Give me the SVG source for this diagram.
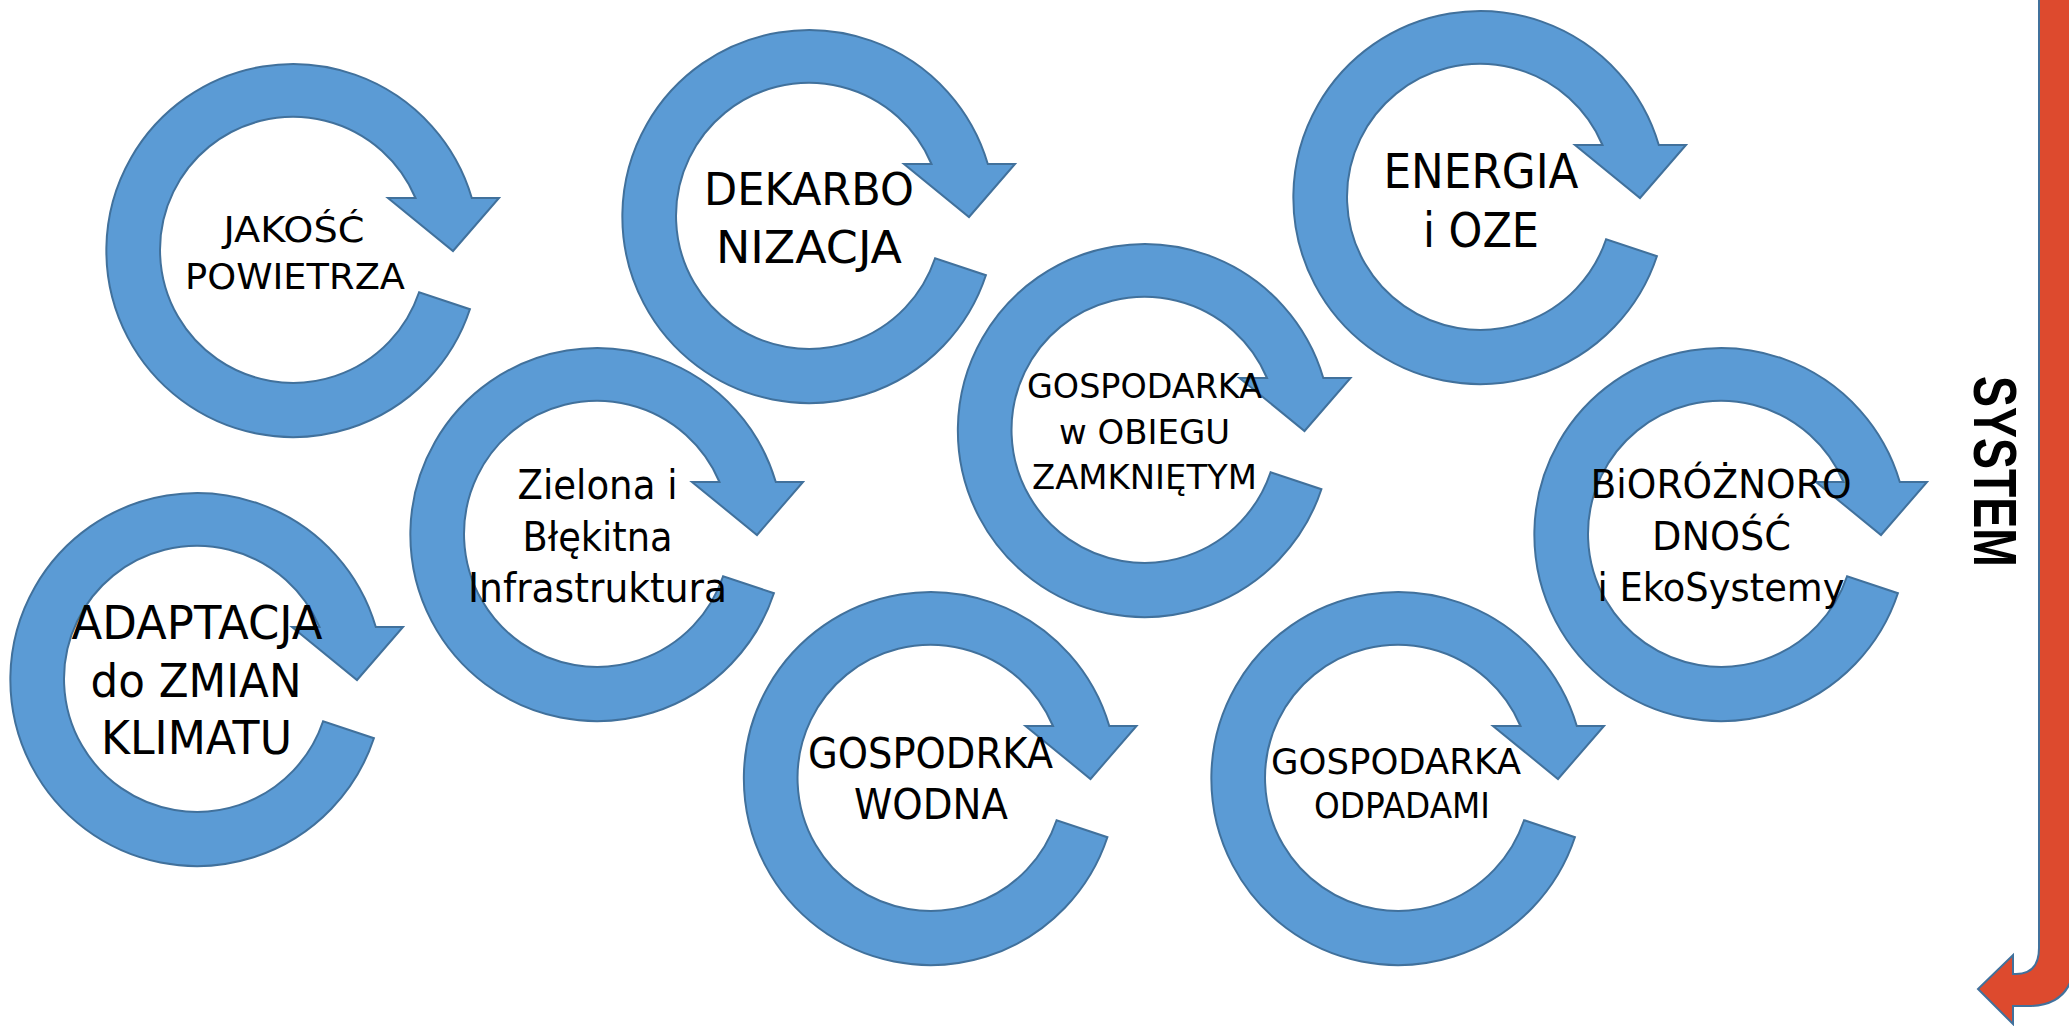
<svg xmlns="http://www.w3.org/2000/svg" xmlns:xlink="http://www.w3.org/1999/xlink" width="2069" height="1026" viewBox="0 0 2069 1026">
<style>
.ring{fill:#5B9BD5;stroke:#41719C;stroke-width:2;stroke-linejoin:miter}
.lbl{font-family:"DejaVu Sans","Verdana",sans-serif;fill:#000;text-anchor:middle}
.sys{font-family:"Liberation Sans Narrow","Liberation Sans",Arial,sans-serif;font-weight:bold;fill:#000}
.red{fill:#DD4A2E;stroke:#41719C;stroke-width:2}
</style>
<defs>
<path id="circArrow" class="ring" d="M 176.9 59.2 A 186.5 186.5 0 1 1 178.8 -52 L 206 -52 L 160 1 L 95 -52 L 122.5 -52 A 133 133 0 1 0 126.1 42.2 Z"/>
</defs>
<rect x="0" y="0" width="2069" height="1026" fill="#ffffff"/>

<g id="jakosc-powietrza">
<use xlink:href="#circArrow" href="#circArrow" transform="translate(293,250)"/>
<text class="lbl" font-size="36" x="294" y="242" textLength="141" lengthAdjust="spacingAndGlyphs">JAKOŚĆ</text>
<text class="lbl" font-size="36" x="295" y="289" textLength="220" lengthAdjust="spacingAndGlyphs">POWIETRZA</text>
</g>

<g id="dekarbonizacja">
<use xlink:href="#circArrow" href="#circArrow" transform="translate(809,216)"/>
<text class="lbl" font-size="45" x="809" y="205" textLength="210" lengthAdjust="spacingAndGlyphs">DEKARBO</text>
<text class="lbl" font-size="45" x="809" y="263" textLength="186" lengthAdjust="spacingAndGlyphs">NIZACJA</text>
</g>

<g id="energia-oze">
<use xlink:href="#circArrow" href="#circArrow" transform="translate(1480,197)"/>
<text class="lbl" font-size="48" x="1481" y="188" textLength="195" lengthAdjust="spacingAndGlyphs">ENERGIA</text>
<text class="lbl" font-size="48" x="1481" y="247" textLength="116" lengthAdjust="spacingAndGlyphs">i OZE</text>
</g>

<g id="zielona-blekitna">
<use xlink:href="#circArrow" href="#circArrow" transform="translate(597,534)"/>
<text class="lbl" font-size="40" x="597.5" y="499" textLength="160" lengthAdjust="spacingAndGlyphs">Zielona i</text>
<text class="lbl" font-size="40" x="597.5" y="551" textLength="150" lengthAdjust="spacingAndGlyphs">Błękitna</text>
<text class="lbl" font-size="40" x="597.5" y="602" textLength="259" lengthAdjust="spacingAndGlyphs">Infrastruktura</text>
</g>

<g id="gospodarka-obieg">
<use xlink:href="#circArrow" href="#circArrow" transform="translate(1144.5,430)"/>
<text class="lbl" font-size="33.5" x="1144.5" y="398" textLength="235" lengthAdjust="spacingAndGlyphs">GOSPODARKA</text>
<text class="lbl" font-size="33.5" x="1144.5" y="444" textLength="171" lengthAdjust="spacingAndGlyphs">w OBIEGU</text>
<text class="lbl" font-size="33.5" x="1144.5" y="489" textLength="225" lengthAdjust="spacingAndGlyphs">ZAMKNIĘTYM</text>
</g>

<g id="bioroznorodnosc">
<use xlink:href="#circArrow" href="#circArrow" transform="translate(1721,534)"/>
<text class="lbl" font-size="39" x="1721" y="498" textLength="261" lengthAdjust="spacingAndGlyphs">BiORÓŻNORO</text>
<text class="lbl" font-size="39" x="1721.5" y="550" textLength="139" lengthAdjust="spacingAndGlyphs">DNOŚĆ</text>
<text class="lbl" font-size="39" x="1721" y="601" textLength="247" lengthAdjust="spacingAndGlyphs">i EkoSystemy</text>
</g>

<g id="adaptacja">
<use xlink:href="#circArrow" href="#circArrow" transform="translate(197,679)"/>
<text class="lbl" font-size="47" x="197" y="639" textLength="251" lengthAdjust="spacingAndGlyphs">ADAPTACJA</text>
<text class="lbl" font-size="47" x="196" y="697" textLength="211" lengthAdjust="spacingAndGlyphs">do ZMIAN</text>
<text class="lbl" font-size="47" x="196.5" y="754" textLength="191" lengthAdjust="spacingAndGlyphs">KLIMATU</text>
</g>

<g id="gospodarka-wodna">
<use xlink:href="#circArrow" href="#circArrow" transform="translate(930.5,778)"/>
<text class="lbl" font-size="43.5" x="930.5" y="768" textLength="245" lengthAdjust="spacingAndGlyphs">GOSPODRKA</text>
<text class="lbl" font-size="43.5" x="931" y="819" textLength="154" lengthAdjust="spacingAndGlyphs">WODNA</text>
</g>

<g id="gospodarka-odpadami">
<use xlink:href="#circArrow" href="#circArrow" transform="translate(1398,778)"/>
<text class="lbl" font-size="36" x="1396" y="774" textLength="250" lengthAdjust="spacingAndGlyphs">GOSPODARKA</text>
<text class="lbl" font-size="36" x="1402" y="818" textLength="176" lengthAdjust="spacingAndGlyphs">ODPADAMI</text>
</g>

<g id="system">
<path class="red" d="M 2039 -5 L 2039 948 Q 2039 974 2016 974 L 2013 974 L 2013 955 L 1978 989 L 2013 1024 L 2013 1006 L 2028 1006 Q 2075 1006 2075 955 L 2075 -5 Z"/>
<text class="sys" font-size="62" transform="translate(1974,376) rotate(90)" textLength="191" lengthAdjust="spacingAndGlyphs">SYSTEM</text>
</g>
</svg>
